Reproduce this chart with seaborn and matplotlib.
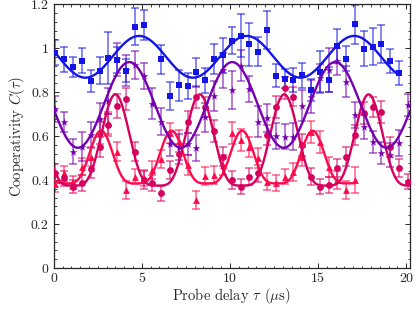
import numpy as np
import pandas as pd
import matplotlib
matplotlib.use("Agg")
import matplotlib.pyplot as plt
import seaborn as sns
from matplotlib.ticker import MultipleLocator, FuncFormatter

nan = np.nan

# probe delays (microseconds)
tau = [0.1, 0.6, 1.1, 1.6, 2.1, 2.6, 3.1, 3.6, 4.1, 4.6,
       5.1, 5.6, 6.1, 6.6, 7.1, 7.6, 8.1, 8.6, 9.1, 9.6,
       10.1, 10.6, 11.1, 11.6, 12.1, 12.6, 13.1, 13.6, 14.1, 14.6,
       15.1, 15.6, 16.1, 16.6, 17.1, 17.6, 18.1, 18.6, 19.1, 19.6,
       20.1]

# blue squares
blue_y = [0.98, 0.949, 0.914, 0.944, 0.851, 0.898, 0.955, 0.946, 0.898, 1.098,
          1.106, nan, 0.949, 0.782, 0.831, 0.828, 0.89, 0.854, 0.951, 0.968,
          1.035, 1.056, 1.018, 0.984, 1.082, 0.875, 0.861, 0.857, 0.877, 0.81,
          0.892, 0.857, 1.01, 0.953, 1.109, 0.998, 1.007, 1.018, 0.942, 0.886]
blue_err = [0.057, 0.055, 0.045, 0.055, 0.05, 0.06, 0.118, 0.058, 0.053, 0.083,
            0.068, nan, 0.068, 0.064, 0.072, 0.06, 0.065, 0.057, 0.068, 0.08,
            0.06, 0.098, 0.097, 0.067, 0.087, 0.053, 0.044, 0.055, 0.057, 0.05,
            0.095, 0.057, 0.077, 0.057, 0.089, 0.08, 0.083, 0.087, 0.053, 0.055]

# purple stars
purple_y = [0.723, 0.666, 0.53, 0.552, 0.606, 0.68, 0.76, 0.95, 0.90, 0.923,
            0.874, 0.747, 0.666, 0.565, 0.55, 0.565, 0.545, 0.686, 0.783, 0.90,
            0.81, 0.921, 0.814, 0.666, 0.682, 0.60, 0.598, 0.598, 0.738, 0.78,
            0.864, 0.902, 0.94, 0.848, 0.697, 0.643, 0.575, 0.522, 0.515, 0.568,
            0.742]
purple_err = [0.06, 0.045, 0.055, 0.065, 0.06, 0.07, 0.06, 0.075, 0.07, 0.065,
              0.06, 0.07, 0.06, 0.055, 0.06, 0.05, 0.06, 0.065, 0.07, 0.08,
              0.085, 0.07, 0.06, 0.07, 0.065, 0.06, 0.055, 0.06, 0.07, 0.075,
              0.065, 0.1, 0.06, 0.07, 0.06, 0.055, 0.05, 0.05, 0.055, 0.06,
              0.05]

# magenta circles
circ_y = [0.434, 0.408, 0.37, 0.386, 0.45, 0.552, 0.65, 0.738, 0.771, 0.53,
          0.40, 0.386, 0.34, 0.446, 0.52, 0.666, 0.78, 0.732, 0.625, 0.507,
          0.40, 0.37, 0.416, 0.43, 0.606, 0.732, 0.818, 0.78, 0.56, 0.416,
          0.37, 0.378, 0.454, 0.507, 0.606, 0.704, 0.732, 0.712, 0.55, 0.454,
          0.393]
circ_err = [0.04, 0.035, 0.03, 0.035, 0.04, 0.045, 0.05, 0.055, 0.05, 0.045,
            0.04, 0.035, 0.035, 0.04, 0.045, 0.05, 0.05, 0.045, 0.05, 0.045,
            0.04, 0.035, 0.04, 0.04, 0.045, 0.05, 0.05, 0.045, 0.05, 0.04,
            0.035, 0.035, 0.04, 0.045, 0.045, 0.05, 0.045, 0.05, 0.045, 0.04,
            0.035]

# red triangles
tri_y = [0.38, 0.43, 0.39, 0.461, 0.507, 0.613, 0.659, 0.53, 0.355, 0.416,
         0.41, 0.446, 0.495, 0.613, 0.58, 0.469, 0.31, 0.419, 0.423, 0.469,
         0.613, 0.583, 0.55, 0.5, 0.393, 0.386, 0.416, 0.438, 0.507, 0.62,
         0.575, 0.461, 0.40, 0.355, 0.40]
tri_err = [0.035, 0.035, 0.03, 0.04, 0.045, 0.05, 0.05, 0.045, 0.04, 0.035,
           0.035, 0.04, 0.04, 0.045, 0.05, 0.045, 0.04, 0.04, 0.04, 0.045,
           0.05, 0.05, 0.045, 0.045, 0.04, 0.035, 0.035, 0.04, 0.045, 0.05,
           0.05, 0.045, 0.04, 0.04, 0.06]

# fitted-curve parameters (baseline, swing, period, peak position, sharpness, x-range)
fit_blue = (0.866, 0.19, 6.1, 4.85, 1, 0.0, 19.6)
fit_purple = (0.547, 0.39, 5.84, 4.29, 1, 0.0, 20.2)
fit_circ = (0.375, 0.415, 4.79, 3.5, 2, 0.0, 20.2)
fit_tri = (0.385, 0.24, 4.0, 2.69, 2, 0.0, 17.1)

colors = {"blue": "#1414e6", "purple": "#7400b0", "circ": "#d6005e", "tri": "#ff0a4c"}

sns.set_style("ticks")
plt.rcParams["font.family"] = "serif"
plt.rcParams["font.serif"] = ["cmr10"]
plt.rcParams["mathtext.fontset"] = "cm"
plt.rcParams["axes.unicode_minus"] = False
plt.rcParams["axes.formatter.use_mathtext"] = True

fig = plt.figure(figsize=(4.15, 3.11), dpi=100)
ax = fig.add_axes([0.1294, 0.1383, 0.8578, 0.8479])


def curve(p):
    base, swing, per, pk, sharp, x0, x1 = p
    xs = np.linspace(x0, x1, 600)
    c = (1 + np.cos(2 * np.pi * (xs - pk) / per)) / 2
    return xs, base + swing * c ** sharp


series = [
    ("blue", tau[:40], blue_y, blue_err, "s", 22, fit_blue),
    ("purple", tau, purple_y, purple_err, "*", 34, fit_purple),
    ("circ", tau, circ_y, circ_err, "o", 24, fit_circ),
    ("tri", tau[:35], tri_y, tri_err, "^", 24, fit_tri),
]

for name, xs, ys, es, mk, sz, fp in reversed(series):
    col = colors[name]
    ax.errorbar(xs, ys, yerr=es, fmt="none", ecolor=col, alpha=0.6,
                elinewidth=1.2, capsize=3, capthick=1.2, zorder=2)
    df = pd.DataFrame({"x": xs, "y": ys}).dropna()
    sns.scatterplot(data=df, x="x", y="y", marker=mk, s=sz, color=col,
                    linewidth=0, ax=ax, zorder=3)
    cx, cy = curve(fp)
    sns.lineplot(x=cx, y=cy, color=col, linewidth=1.7, ax=ax, zorder=4,
                 sort=False, estimator=None)

ax.set_xlim(0, 20.2)
ax.set_ylim(0, 1.2)
ax.xaxis.set_major_locator(MultipleLocator(5))
ax.xaxis.set_minor_locator(MultipleLocator(0.5))
ax.yaxis.set_major_locator(MultipleLocator(0.2))
ax.yaxis.set_minor_locator(MultipleLocator(0.04))
ax.yaxis.set_major_formatter(FuncFormatter(lambda v, p: f"{v:g}"))
ax.xaxis.set_major_formatter(FuncFormatter(lambda v, p: f"{v:g}"))
ax.tick_params(which="both", direction="in", top=True, right=True, labelsize=10)
ax.tick_params(which="major", length=3.5, width=0.7)
ax.tick_params(which="minor", length=1.8, width=0.6)
for s in ax.spines.values():
    s.set_linewidth(0.9)
ax.set_xlabel(r"Probe delay $\tau$ ($\mu$s)", fontsize=10.5, labelpad=1)
ax.set_ylabel(r"Cooperativity $C(\tau)$", fontsize=10.5, labelpad=3)

fig.savefig("out.png", dpi=100)
